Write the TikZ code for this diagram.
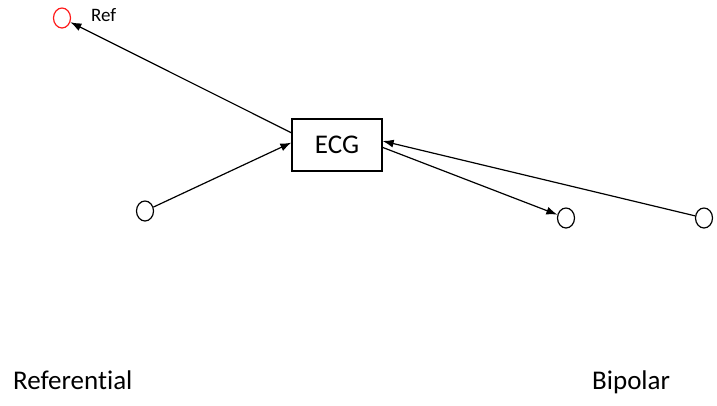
\documentclass[tikz,border=0pt]{standalone}
\usepackage{fontspec}
\setmainfont[Ligatures=NoCommon]{Carlito}
\usetikzlibrary{shapes.geometric, arrows.meta, positioning}
\tikzset{
  electrode/.style={ellipse,draw=black,line width=1.2pt,minimum width=17pt,minimum height=20pt,inner sep=0pt},
  refelectrode/.style={electrode,draw=red!90!white},
  ecgbox/.style={rectangle,draw=black,line width=1.3pt,minimum width=90pt,minimum height=52pt,font=\fontsize{27}{30}\selectfont},
  lead/.style={line width=1.2pt,-{Latex[length=11pt,width=8pt]},black},
  caption/.style={font=\fontsize{27}{30}\selectfont},
  tag/.style={font=\fontsize{19}{21}\selectfont},
}
\begin{document}
\begin{tikzpicture}[x=1pt,y=-1pt]
	    \useasboundingbox (0,0) rectangle (717,405);
	    \node[ecgbox] (ecg) at (337,145) {ECG};
	    \node[refelectrode] (ref) at (62,18) {};
	    \node[tag,anchor=west,inner sep=0pt] (reftag) at (91,15) {Ref};
	    \node[electrode] (left) at (145,211) {};
	    \node[electrode] (mid) at (566,218) {};
	    \node[electrode] (far) at (704,218) {};
	    \draw[lead] (ecg.165) -- (ref);
	    \draw[lead] (left) -- (ecg.177);
	    \draw[lead] (ecg.-3) -- (mid);
	    \draw[lead] (far) -- (ecg.5);
	    %captions
	    \node[caption,anchor=base west,inner sep=0pt] (referential) at (13,389) {Referential};
	    \node[caption,anchor=base west,inner sep=0pt] (bipolar) at (592,389) {Bipolar};
	\end{tikzpicture}
\end{document}
